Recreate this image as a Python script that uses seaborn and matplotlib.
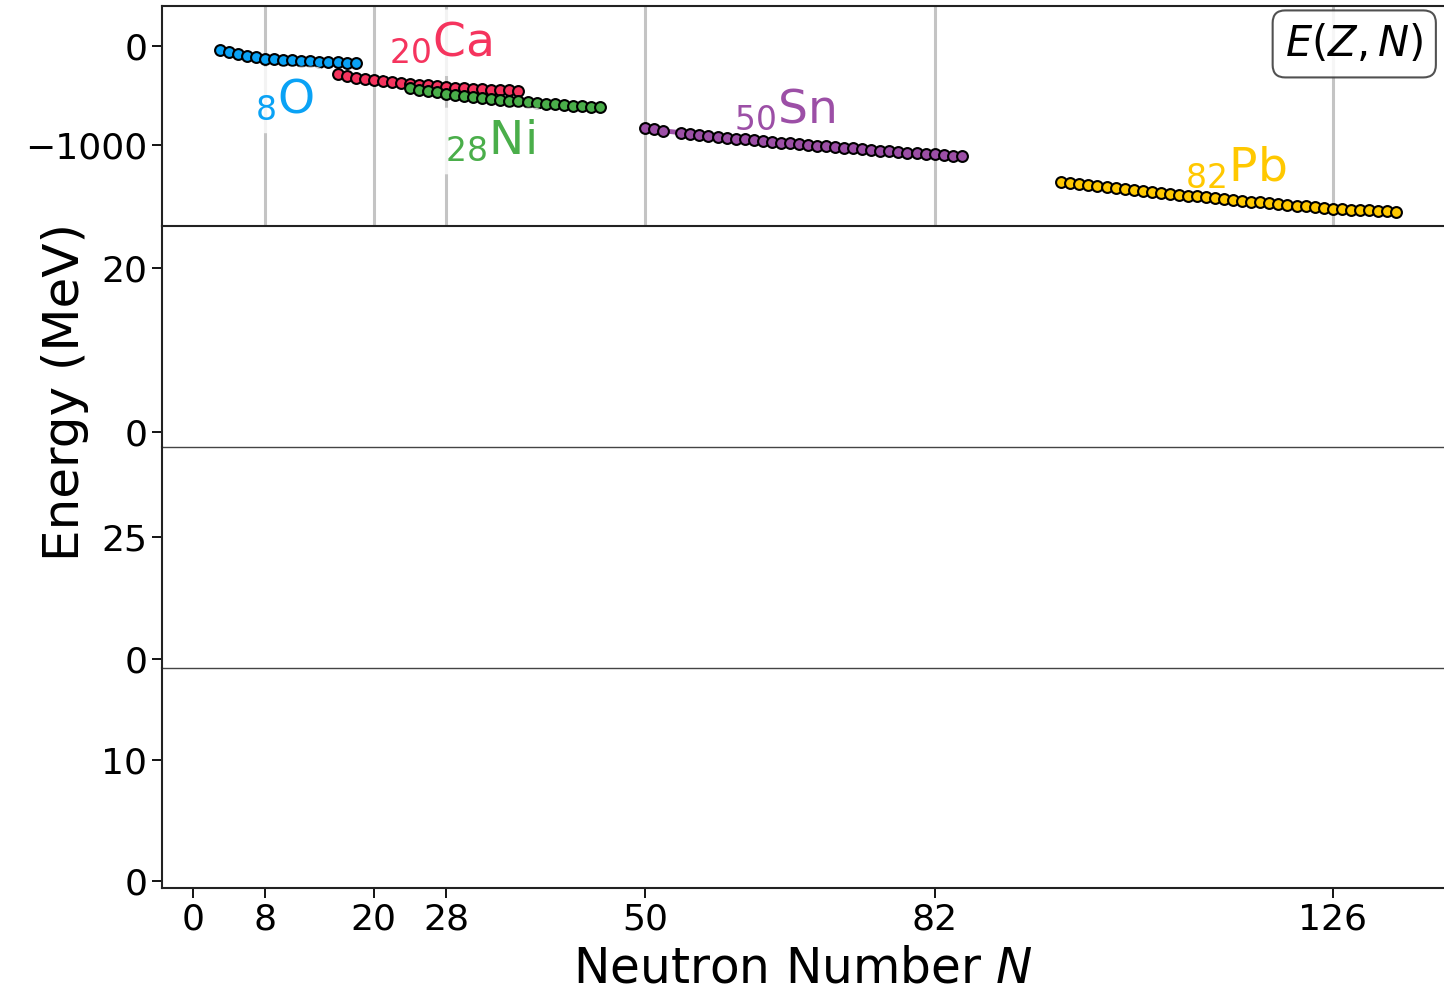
import matplotlib
matplotlib.use("Agg")
import matplotlib.pyplot as plt
import seaborn as sns
import pandas as pd

sns.set_style("ticks")
plt.rcParams["font.family"] = ["DejaVu Sans"]
plt.rcParams["mathtext.fontset"] = "dejavusans"
for key in ("text.color", "axes.labelcolor", "xtick.color", "ytick.color", "axes.edgecolor"):
    plt.rcParams[key] = "black"

# ---- data ----
O_N = list(range(3, 19))
O_E = [-33, -57, -77, -95, -111, -127, -132, -138, -142, -146, -150, -156, -159, -162, -164, -166]

Ca_N = list(range(16, 37))
Ca_E = [-282, -301, -317, -331, -345, -357, -367, -375, -383, -390, -398, -405, -413, -419,
        -425, -430, -435, -439, -443, -447, -451]

Ni_N = list(range(24, 46))
Ni_E = [-424, -440, -455, -469, -484, -495, -507, -516, -527, -535, -545, -552, -560, -567,
        -575, -582, -589, -595, -602, -606, -612, -618]

Sn_N = [50, 51, 52] + list(range(54, 86))
Sn_E = [-831, -845, -859, -879, -889, -899, -909, -919, -929, -938, -946, -955, -964, -972,
        -980, -988, -996, -1003, -1011, -1018, -1025, -1032, -1039, -1046, -1053, -1060,
        -1066, -1073, -1080, -1086, -1093, -1100, -1106, -1113, -1120]

Pb_N = list(range(96, 134))
Pb_E = [-1380, -1391, -1402, -1412, -1422, -1432, -1442, -1452, -1462, -1472, -1481, -1491,
        -1500, -1509, -1518, -1527, -1536, -1545, -1554, -1562, -1571, -1579, -1587, -1595,
        -1603, -1611, -1620, -1628, -1636, -1644, -1652, -1656, -1661, -1665, -1670, -1674,
        -1678, -1682]

elements = ["O", "Ca", "Ni", "Sn", "Pb"]
Z_values = [8, 20, 28, 50, 82]
colors = ["#0aa2f5", "#f5345e", "#4aae4a", "#9c4fa6", "#ffc800"]
label_pos = [(10.2, -545), (27.4, 37), (32.8, -963), (65.4, -640), (115.3, -1235)]

magic = [8, 20, 28, 50, 82, 126]
xticks = [0, 8, 20, 28, 50, 82, 126]

series = {"O": (O_N, O_E), "Ca": (Ca_N, Ca_E), "Ni": (Ni_N, Ni_E),
          "Sn": (Sn_N, Sn_E), "Pb": (Pb_N, Pb_E)}

# ---- figure ----
W, H = 1444, 993
fig = plt.figure(figsize=(W / 100, H / 100), dpi=100)
gs = fig.add_gridspec(4, 1, left=162 / W, right=1.0, top=1 - 6 / H, bottom=1 - 888 / H, hspace=0)
ax0 = fig.add_subplot(gs[0])
axes = [ax0] + [fig.add_subplot(gs[i], sharex=ax0) for i in range(1, 4)]

ax = axes[0]
for m in magic:
    ax.axvline(m, color="#c4c4c4", lw=2.2, zorder=1)

for i, el in enumerate(elements):
    N, E = series[el]
    df = pd.DataFrame({"N": N, "E": E})
    z = 3 if el in ("O", "Ca", "Ni") else 6
    sns.lineplot(data=df, x="N", y="E", ax=ax, color=colors[i], lw=3.5, marker="o",
                 markersize=7.8, markeredgecolor="black", markeredgewidth=1.5,
                 markerfacecolor=colors[i], zorder=z)
    lx, ly = label_pos[i]
    ax.text(lx, ly, r"$_{%d}$%s" % (Z_values[i], el), color=colors[i], fontsize=34,
            ha="center", va="center", zorder=5,
            bbox=dict(boxstyle="round,pad=0.22", fc="white", ec="none", alpha=0.8))

ax.text(0.93, 0.828, r"$E(Z,N)$", transform=ax.transAxes, fontsize=30, ha="center",
        va="center", zorder=7,
        bbox=dict(boxstyle="round,pad=0.3", fc="white", ec="#333333", lw=1.5, alpha=0.85))

ax.set_ylim(-1833, 411)
ax.set_yticks([-1000, 0])
ax.set_xlim(-3.4, 138.3)
ax.set_xlabel("")
ax.set_ylabel("")

ylims = [None, (-1.83, 25.0), (-1.64, 43.4), (-0.58, 17.7)]
yticks = [None, [0, 20], [0, 25], [0, 10]]
for k in range(1, 4):
    axes[k].set_ylim(*ylims[k])
    axes[k].set_yticks(yticks[k])

for k, a in enumerate(axes):
    a.patch.set_visible(False)
    a.spines["right"].set_visible(False)
    a.tick_params(axis="y", labelsize=26, length=7, width=1.3, direction="out")
    if k < 3:
        a.tick_params(axis="x", labelbottom=False, length=0)
    for s in ("left", "top", "bottom"):
        a.spines[s].set_color("#222222")
        a.spines[s].set_linewidth(1.5)
    if k > 0:
        a.spines["top"].set_visible(False)
    if k in (1, 2):
        a.spines["bottom"].set_color("#444444")
        a.spines["bottom"].set_linewidth(1.0)

axb = axes[3]
axb.set_xticks(xticks)
axb.set_xticklabels([str(t) for t in xticks])
axb.tick_params(axis="x", labelsize=26, length=7, width=1.3)
axb.set_xlabel("Neutron Number $N$", fontsize=35, labelpad=6)

fig.text(65 / W, 1 - 392 / H, "Energy (MeV)", rotation=90, ha="center", va="center", fontsize=36)

fig.savefig("out.png", dpi=100)
